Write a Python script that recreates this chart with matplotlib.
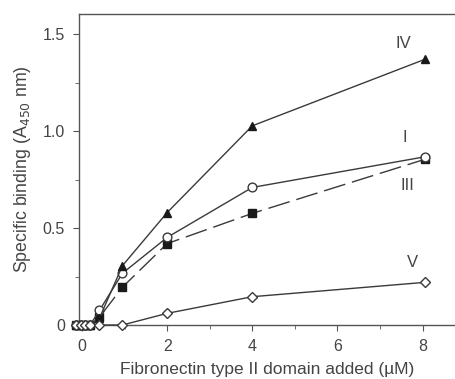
import matplotlib
matplotlib.use("Agg")
import matplotlib.pyplot as plt
import matplotlib.ticker as ticker

plt.rcParams['font.family'] = ['Liberation Sans', 'DejaVu Sans']

# concentrations as placed on the plot (uM)
conc = [-0.13, -0.03, 0.06, 0.19, 0.41, 0.95, 2.0, 4.0, 8.05]

bind_I = [0, 0, 0, 0, 0.075, 0.267, 0.452, 0.71, 0.868]
bind_III = [0, 0, 0, 0, 0.04, 0.195, 0.42, 0.576, 0.855]
bind_IV = [0, 0, 0, 0, 0.035, 0.306, 0.58, 1.028, 1.371]
bind_V = [0, 0, 0, 0, 0, 0, 0.06, 0.146, 0.22]

labels = ["IV", "I", "III", "V"]
label_pos = [(7.55, 1.455), (7.58, 0.97), (7.65, 0.72), (7.75, 0.32)]

fig = plt.figure(figsize=(4.55, 3.79), dpi=100)
ax = fig.add_axes([0.1736, 0.1425, 0.8264, 0.8205])

lc = '#3a3a3a'
ax.plot(conc, bind_III, color=lc, lw=1.0, ls=(0, (16, 5)), marker='s', ms=5.2,
        mfc='#1a1a1a', mec='#1a1a1a', clip_on=False, zorder=3)
ax.plot(conc, bind_I, '-', color=lc, lw=1.0, marker='o', ms=6.3,
        mfc='white', mec=lc, mew=1.0, clip_on=False, zorder=4)
ax.plot(conc, bind_IV, '-', color=lc, lw=1.0, marker='^', ms=6,
        mfc='#1a1a1a', mec='#1a1a1a', clip_on=False, zorder=5)
ax.plot(conc, bind_V, '-', color=lc, lw=1.0, marker='D', ms=5.5,
        mfc='white', mec=lc, mew=1.0, clip_on=False, zorder=6)

for t, (x, y) in zip(labels, label_pos):
    ax.text(x, y, t, fontsize=12, color='#444444', ha='center', va='center')

ax.set_xlim(-0.07, 8.76)
ax.set_ylim(0, 1.605)
ax.xaxis.set_major_locator(ticker.MultipleLocator(2))
ax.xaxis.set_minor_locator(ticker.MultipleLocator(1))
ax.yaxis.set_major_locator(ticker.FixedLocator([0, 0.5, 1.0, 1.5]))
ax.yaxis.set_minor_locator(ticker.FixedLocator([0.25, 0.75, 1.25]))
ax.yaxis.set_major_formatter(ticker.FixedFormatter(["0", "0.5", "1.0", "1.5"]))

ax.spines['right'].set_visible(False)
for s in ['left', 'bottom', 'top']:
    ax.spines[s].set_color('#555555')
    ax.spines[s].set_linewidth(1.0)
ax.tick_params(which='both', direction='out', colors='#555555', labelcolor='#444444',
               labelsize=11.5)
ax.tick_params(which='major', length=4, pad=6)
ax.tick_params(which='minor', length=3)

ax.set_xlabel("Fibronectin type II domain added (\u00b5M)", fontsize=12.5,
              color='#444444', labelpad=6)
ax.set_ylabel("Specific binding (A$_{450}$ nm)", fontsize=12.8, color='#444444',
              labelpad=7)

fig.savefig("out.png", dpi=100)
